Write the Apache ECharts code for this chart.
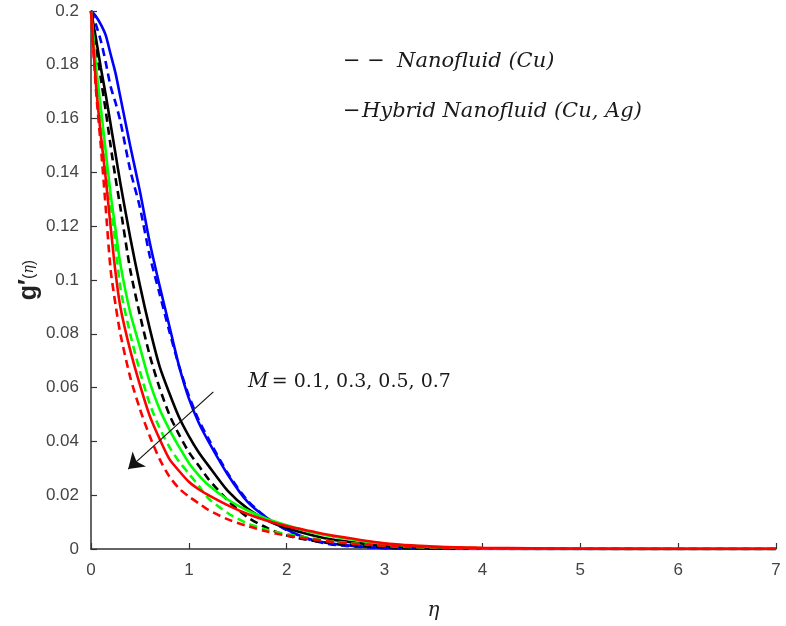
<!DOCTYPE html>
<html>
<head>
<meta charset="utf-8">
<script src="https://cdn.jsdelivr.net/npm/echarts@6/dist/echarts.min.js"></script>
<style>
html,body{margin:0;padding:0;background:#fff;}
#chart{width:786px;height:626px;}
</style>
</head>
<body>
<div id="chart"></div>
<script>
// eta grid (x values)
const eta = [0,0.05,0.1,0.15,0.2,0.25,0.3,0.4,0.5,0.6,0.7,0.8,0.9,1.0,1.1,1.2,1.4,1.6,1.8,2.0,2.25,2.5,3,3.5,4,5,6,7];

// M = 0.1 (blue)
const blueHybrid = [0.2,0.198,0.195,0.191,0.184,0.177,0.168,0.150,0.133,0.114,0.098,0.083,0.068,0.056,0.047,0.040,0.0275,0.0175,0.0115,0.0072,0.0035,0.0018,0.0004,0.0001,0,0,0,0];
const blueNano   = [0.2,0.195,0.189,0.181,0.172,0.166,0.159,0.141,0.127,0.109,0.095,0.081,0.068,0.057,0.048,0.041,0.028,0.018,0.0115,0.007,0.0033,0.0015,0.0003,0.0001,0,0,0,0];
// M = 0.3 (black)
const blackHybrid = [0.2,0.190,0.179,0.169,0.158,0.147,0.136,0.116,0.098,0.082,0.068,0.058,0.049,0.042,0.036,0.031,0.0215,0.015,0.0107,0.0078,0.0052,0.0033,0.0012,0.0004,0.0001,0,0,0];
const blackNano   = [0.2,0.187,0.175,0.163,0.150,0.138,0.127,0.104,0.087,0.072,0.060,0.050,0.0425,0.036,0.031,0.026,0.018,0.0118,0.0078,0.005,0.0032,0.002,0.0007,0.0002,0.0001,0,0,0];
// M = 0.5 (green)
const greenHybrid = [0.2,0.180,0.164,0.148,0.132,0.119,0.106,0.088,0.075,0.062,0.052,0.0445,0.038,0.032,0.0275,0.0238,0.0183,0.0143,0.0112,0.0088,0.0062,0.0045,0.0019,0.0008,0.0003,0.0001,0,0];
const greenNano   = [0.2,0.178,0.161,0.145,0.129,0.113,0.097,0.080,0.066,0.054,0.045,0.038,0.0325,0.028,0.0235,0.0188,0.0133,0.0095,0.0072,0.0055,0.004,0.0027,0.0012,0.0005,0.0002,0,0,0];
// M = 0.7 (red)
const redHybrid = [0.2,0.173,0.154,0.138,0.120,0.103,0.090,0.074,0.061,0.0495,0.041,0.0335,0.029,0.025,0.0222,0.020,0.0162,0.013,0.0105,0.0085,0.0066,0.0048,0.0021,0.0009,0.0004,0.0001,0,0];
const redNano   = [0.2,0.171,0.150,0.127,0.104,0.091,0.080,0.064,0.052,0.042,0.0335,0.027,0.0225,0.0195,0.017,0.0145,0.011,0.0085,0.0065,0.005,0.0037,0.0025,0.0012,0.0006,0.0003,0.0001,0,0];

// annotation arrow (data coords)
const arrowFrom = [1.25, 0.0584];
const arrowTo = [0.38, 0.0297];

function pairs(ys){ return eta.map((x,i)=>[x, ys[i]]); }

function line(name, ys, color, dashed){
  return {
    name: name, type: 'line', data: pairs(ys), showSymbol: false, symbol: 'none',
    smooth: 0.25,
    lineStyle: {color: color, width: 2.6, type: dashed ? [8,5] : 'solid'},
    z: 2
  };
}

const chart = echarts.init(document.getElementById('chart'), null, {renderer: 'canvas'});
const series = [
  line('blueHybrid', blueHybrid, '#0000ff', false),
  line('blueNano', blueNano, '#0000ff', true),
  line('blackHybrid', blackHybrid, '#000000', false),
  line('blackNano', blackNano, '#000000', true),
  line('greenHybrid', greenHybrid, '#00ff00', false),
  line('greenNano', greenNano, '#00ff00', true),
  line('redHybrid', redHybrid, '#ff0000', false),
  line('redNano', redNano, '#ff0000', true)
];
series.push({
  type: 'line', data: [], silent: true,
  markLine: {
    silent: true, symbol: ['none', 'arrow'], symbolSize: 15,
    label: {show: false},
    lineStyle: {color: '#111', width: 1.2, type: 'solid'},
    data: [[{coord: arrowFrom}, {coord: arrowTo}]]
  },
  z: 5
});

chart.setOption({
  animation: false,
  backgroundColor: '#ffffff',
  grid: {left: 91, right: 10, top: 11, bottom: 77, containLabel: false},
  xAxis: {
    type: 'value', min: 0, max: 7, interval: 1,
    name: 'η', nameLocation: 'middle', nameGap: 52, nameMoveOverlap: false,
    nameTextStyle: {fontFamily: 'DejaVu Serif', fontStyle: 'italic', fontSize: 20, color: '#222'},
    axisLine: {show: true, onZero: false, lineStyle: {color: '#333', width: 1.5}},
    axisTick: {show: true, inside: true, length: 6, lineStyle: {color: '#333', width: 1.2}},
    axisLabel: {color: '#444', fontSize: 17, fontFamily: 'Liberation Sans', margin: 13,
      formatter: v => String(v)},
    splitLine: {show: false}
  },
  yAxis: {
    type: 'value', min: 0, max: 0.2, interval: 0.02,
    name: '{g|g′}{p|(}{e|η}{p|)}', nameLocation: 'middle', nameGap: 49, nameRotate: 90,
    nameMoveOverlap: false,
    nameTextStyle: {
      rich: {
        g: {fontFamily: 'Liberation Sans', fontWeight: 'bold', fontSize: 25, color: '#222'},
        p: {fontFamily: 'Liberation Sans', fontSize: 16, color: '#222'},
        e: {fontFamily: 'DejaVu Serif', fontStyle: 'italic', fontSize: 14, color: '#222'}
      }
    },
    axisLine: {show: true, onZero: false, lineStyle: {color: '#333', width: 1.5}},
    axisTick: {show: true, inside: true, length: 6, lineStyle: {color: '#333', width: 1.2}},
    axisLabel: {color: '#444', fontSize: 17, fontFamily: 'Liberation Sans', margin: 12,
      formatter: v => String(+v.toFixed(2))},
    splitLine: {show: false}
  },
  graphic: [
    {type: 'text', left: 343, top: 51, z: 10,
      style: {text: '− −', font: '21px "DejaVu Serif"', fill: '#1a1a1a'}},
    {type: 'text', left: 397, top: 51, z: 10,
      style: {text: 'Nanofluid (Cu)', font: 'italic 21px "DejaVu Serif"', fill: '#1a1a1a'}},
    {type: 'text', left: 343, top: 101, z: 10,
      style: {text: '−', font: '21px "DejaVu Serif"', fill: '#1a1a1a'}},
    {type: 'text', left: 362, top: 101, z: 10,
      style: {text: 'Hybrid Nanofluid (Cu, Ag)', font: 'italic 21px "DejaVu Serif"', fill: '#1a1a1a'}},
    {type: 'text', left: 248, top: 372, z: 10,
      style: {text: '{m|M} {n|= 0.1, 0.3, 0.5, 0.7}',
        rich: {
          m: {font: 'italic 20px "DejaVu Serif"', fill: '#1a1a1a'},
          n: {font: '19px "DejaVu Serif"', fill: '#1a1a1a'}
        }}}
  ],
  series: series
});
</script>
</body>
</html>
